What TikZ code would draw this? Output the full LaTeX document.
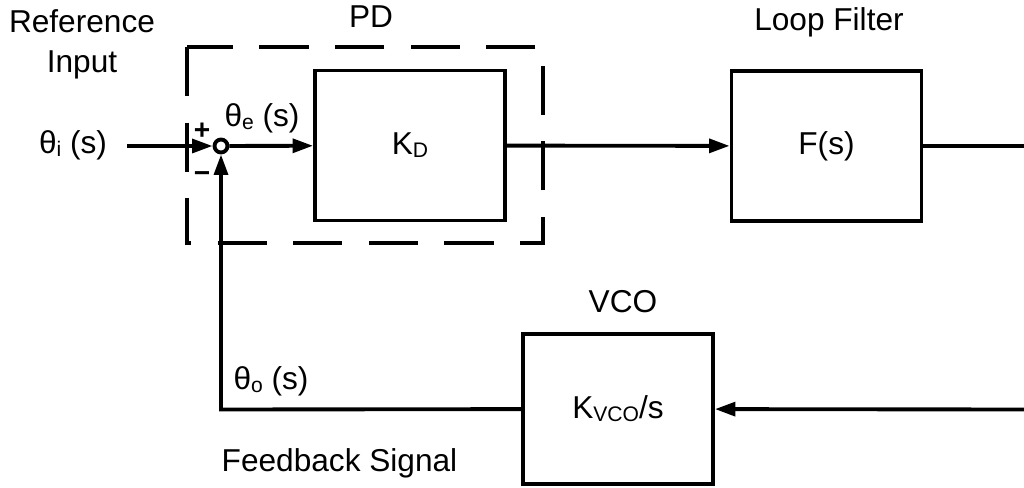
\documentclass[tikz,border=0pt]{standalone}
\usepackage{fontspec}
\setmainfont{Liberation Sans}
\usetikzlibrary{arrows.meta}
\newcommand{\lowsub}[1]{\raisebox{-0.9pt}{\fontsize{6}{6}\selectfont #1}}
\tikzset{
  plblock/.style={draw=black, line width=1.1pt, minimum width=1.9cm, minimum height=1.5cm, inner sep=0pt},
  plsum/.style={circle, draw=black, line width=1.1pt, minimum size=0.13cm, inner sep=0pt},
  plwire/.style={line width=1.1pt, draw=black},
  plarrow/.style={plwire, -{Triangle[length=5.8pt,width=3.9pt]}},
  pldash/.style={line width=1.1pt, draw=black, dash pattern=on 14pt off 7.5pt},
  pltext/.style={inner sep=0pt},
  plsign/.style={inner sep=0pt, font=\fontsize{8}{8}\selectfont\bfseries},
}

\begin{document}
\begin{tikzpicture}[font=\fontsize{9}{11.4}\selectfont]
\useasboundingbox (0,0) rectangle (10.24,-4.88);
\node[plsum] (sum) at (2.210,-1.460) {};
\node[plblock] (kd) at (4.100,-1.455) {K\lowsub{D}};
\node[plblock] (filt) at (8.265,-1.460) {F(s)};
\node[plblock] (vco) at (6.180,-4.090) {K\lowsub{VCO}/s};
\coordinate (thin) at (1.270,-1.460);
\coordinate (outright) at (10.240,-1.460);
\coordinate (inright) at (10.240,-4.095);
\coordinate (fbcorner) at (2.210,-4.095);
\draw[pldash] (1.870,-0.470) rectangle (5.430,-2.430);
\draw[plarrow] (thin) -- (sum);
\draw[plarrow] (sum) -- (kd);
\draw[plarrow] (kd) -- (filt);
\draw[plwire] (filt) -- (outright);
\draw[plarrow] (inright) -- (vco);
\draw[plarrow] (vco) -- (fbcorner) -- (sum);
\node[pltext, align=center] (reflab) at (0.820,-0.440) {Reference\\Input};
\node[pltext, anchor=base] (pdlab) at (3.710,-0.280) {PD};
\node[pltext, anchor=base] (filtlab) at (8.290,-0.305) {Loop Filter};
\node[pltext, anchor=base] (vcolab) at (6.230,-3.130) {VCO};
\node[pltext] (thilab) at (0.730,-1.455) {θ\lowsub{i} (s)};
\node[pltext] (thelab) at (2.620,-1.180) {θ\lowsub{e} (s)};
\node[pltext] (tholab) at (2.710,-3.810) {θ\lowsub{o} (s)};
\node[pltext, anchor=base] (fblab) at (3.395,-4.720) {Feedback Signal};
\node[plsign] (plus) at (2.020,-1.310) {+};
\node[plsign] (minus) at (2.020,-1.770) {−};
\end{tikzpicture}
\end{document}
